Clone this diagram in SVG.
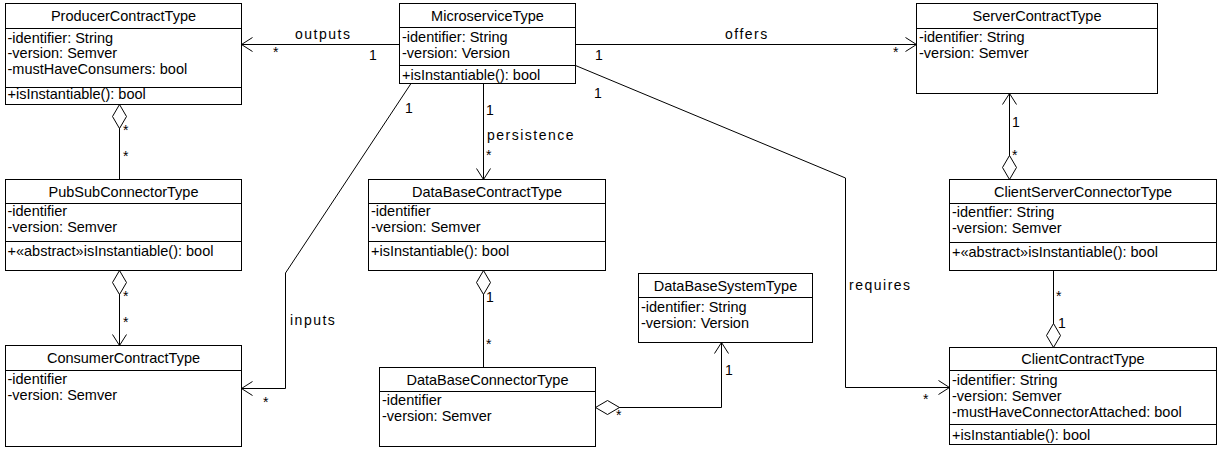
<svg xmlns="http://www.w3.org/2000/svg" width="1225" height="451" viewBox="0 0 1225 451">
<style>
text{font-family:"Liberation Sans",Arial,sans-serif;font-size:14.5px;fill:#000}
.t{text-anchor:middle}
.lbl{letter-spacing:1.5px;font-size:14px}
.m{font-size:14px}
.box{fill:#fff;stroke:#000;stroke-width:1}
.div{stroke:#000;stroke-width:1}
.c{fill:none;stroke:#000;stroke-width:1}
</style>
<defs>
<marker id="arr" markerUnits="userSpaceOnUse" markerWidth="16" markerHeight="18" refX="12" refY="8" orient="auto" overflow="visible">
<path d="M1,1 L12,8 L1,15" fill="none" stroke="#000" stroke-width="1"/>
</marker>
<marker id="dia" markerUnits="userSpaceOnUse" markerWidth="26" markerHeight="16" refX="0" refY="7" orient="auto" overflow="visible">
<path d="M0,7 L12,0 L24,7 L12,14 Z" fill="#fff" stroke="#000" stroke-width="1"/>
</marker>
</defs>
<rect width="1225" height="451" fill="#fff"/>

<g id="connectors">
<path class="c" d="M399.5,44.5 L241.5,44.5" marker-end="url(#arr)"/>
<path class="c" d="M575.5,44.5 L916.5,44.5" marker-end="url(#arr)"/>
<path class="c" d="M575.5,65.5 L845.5,178 L845.5,387.5 L949.5,387.5" marker-end="url(#arr)"/>
<path class="c" d="M411,83.5 L285.5,273 L285.5,388.5 L241.5,388.5" marker-end="url(#arr)"/>
<path class="c" d="M483.5,83.5 L483.5,179.5" marker-end="url(#arr)"/>
<path class="c" d="M119.5,104.5 L119.5,179.5" marker-start="url(#dia)"/>
<path class="c" d="M119.5,270.5 L119.5,345.5" marker-start="url(#dia)" marker-end="url(#arr)"/>
<path class="c" d="M483.5,270.5 L483.5,367.5" marker-start="url(#dia)"/>
<path class="c" d="M595.5,407.5 L721.5,407.5 L721.5,342.5" marker-start="url(#dia)" marker-end="url(#arr)"/>
<path class="c" d="M1009.5,179.5 L1009.5,93.5" marker-start="url(#dia)" marker-end="url(#arr)"/>
<path class="c" d="M1053.5,347.5 L1053.5,270.5" marker-start="url(#dia)"/>
<text class="lbl" x="295" y="39">outputs</text>
<text class="m" x="273" y="57">*</text>
<text class="m" x="369" y="60">1</text>
<text class="lbl" x="725" y="39">offers</text>
<text class="m" x="595" y="60">1</text>
<text class="m" x="893" y="57">*</text>
<text class="lbl" x="849" y="290">requires</text>
<text class="m" x="594" y="98">1</text>
<text class="m" x="923" y="404">*</text>
<text class="lbl" x="290" y="325">inputs</text>
<text class="m" x="405" y="113">1</text>
<text class="m" x="263" y="407">*</text>
<text class="lbl" x="487" y="140">persistence</text>
<text class="m" x="486" y="115">1</text>
<text class="m" x="486" y="160">*</text>
<text class="m" x="123" y="135">*</text>
<text class="m" x="123" y="161">*</text>
<text class="m" x="123" y="301">*</text>
<text class="m" x="123" y="327">*</text>
<text class="m" x="486" y="302">1</text>
<text class="m" x="486" y="349">*</text>
<text class="m" x="616" y="420">*</text>
<text class="m" x="725" y="375">1</text>
<text class="m" x="1012" y="127">1</text>
<text class="m" x="1012" y="160">*</text>
<text class="m" x="1056" y="301">*</text>
<text class="m" x="1058" y="328">1</text>
</g>

<g id="ProducerContractType">
<rect class="box" x="5.5" y="3.5" width="236" height="101"/>
<line class="div" x1="5.5" y1="28.5" x2="241.5" y2="28.5"/>
<line class="div" x1="5.5" y1="87.5" x2="241.5" y2="87.5"/>
<text class="t" x="123.5" y="21">ProducerContractType</text>
<text x="7.5" y="42.5">-identifier: String</text>
<text x="7.5" y="58">-version: Semver</text>
<text x="7.5" y="73.5">-mustHaveConsumers: bool</text>
<text x="7.5" y="99">+isInstantiable(): bool</text>
</g>

<g id="MicroserviceType">
<rect class="box" x="399.5" y="3.5" width="176" height="80"/>
<line class="div" x1="399.5" y1="27.5" x2="575.5" y2="27.5"/>
<line class="div" x1="399.5" y1="65.5" x2="575.5" y2="65.5"/>
<text class="t" x="487.5" y="20.5">MicroserviceType</text>
<text x="402" y="42">-identifier: String</text>
<text x="402" y="58">-version: Version</text>
<text x="402" y="80">+isInstantiable(): bool</text>
</g>

<g id="ServerContractType">
<rect class="box" x="916.5" y="3.5" width="241" height="90"/>
<line class="div" x1="916.5" y1="28.5" x2="1157.5" y2="28.5"/>
<text class="t" x="1037" y="21">ServerContractType</text>
<text x="919" y="42">-identifier: String</text>
<text x="919" y="58">-version: Semver</text>
</g>

<g id="PubSubConnectorType">
<rect class="box" x="5.5" y="179.5" width="236" height="91"/>
<line class="div" x1="5.5" y1="203.5" x2="241.5" y2="203.5"/>
<line class="div" x1="5.5" y1="241.5" x2="241.5" y2="241.5"/>
<text class="t" x="123.5" y="197">PubSubConnectorType</text>
<text x="7.5" y="216">-identifier</text>
<text x="7.5" y="232">-version: Semver</text>
<text x="7.5" y="256">+«abstract»isInstantiable(): bool</text>
</g>

<g id="ConsumerContractType">
<rect class="box" x="5.5" y="345.5" width="236" height="101"/>
<line class="div" x1="5.5" y1="370.5" x2="241.5" y2="370.5"/>
<text class="t" x="123.5" y="363">ConsumerContractType</text>
<text x="7.5" y="384">-identifier</text>
<text x="7.5" y="400">-version: Semver</text>
</g>

<g id="DataBaseContractType">
<rect class="box" x="368.5" y="179.5" width="237" height="91"/>
<line class="div" x1="368.5" y1="203.5" x2="605.5" y2="203.5"/>
<line class="div" x1="368.5" y1="241.5" x2="605.5" y2="241.5"/>
<text class="t" x="487" y="197">DataBaseContractType</text>
<text x="371" y="216">-identifier</text>
<text x="371" y="232">-version: Semver</text>
<text x="371" y="256">+isInstantiable(): bool</text>
</g>

<g id="DataBaseConnectorType">
<rect class="box" x="379.5" y="367.5" width="216" height="79"/>
<line class="div" x1="379.5" y1="391.5" x2="595.5" y2="391.5"/>
<text class="t" x="487.5" y="385">DataBaseConnectorType</text>
<text x="382" y="405">-identifier</text>
<text x="382" y="421">-version: Semver</text>
</g>

<g id="DataBaseSystemType">
<rect class="box" x="638.5" y="273.5" width="174" height="69"/>
<line class="div" x1="638.5" y1="297.5" x2="812.5" y2="297.5"/>
<text class="t" x="725.5" y="291">DataBaseSystemType</text>
<text x="641" y="312">-identifier: String</text>
<text x="641" y="328">-version: Version</text>
</g>

<g id="ClientServerConnectorType">
<rect class="box" x="949.5" y="179.5" width="267" height="91"/>
<line class="div" x1="949.5" y1="203.5" x2="1216.5" y2="203.5"/>
<line class="div" x1="949.5" y1="242.5" x2="1216.5" y2="242.5"/>
<text class="t" x="1083" y="197">ClientServerConnectorType</text>
<text x="952" y="217">-identfier: String</text>
<text x="952" y="233">-version: Semver</text>
<text x="952" y="257">+«abstract»isInstantiable(): bool</text>
</g>

<g id="ClientContractType">
<rect class="box" x="949.5" y="347.5" width="267" height="97"/>
<line class="div" x1="949.5" y1="370.5" x2="1216.5" y2="370.5"/>
<line class="div" x1="949.5" y1="424.5" x2="1216.5" y2="424.5"/>
<text class="t" x="1083" y="364">ClientContractType</text>
<text x="952" y="385">-identifier: String</text>
<text x="952" y="401">-version: Semver</text>
<text x="952" y="417">-mustHaveConnectorAttached: bool</text>
<text x="952" y="440">+isInstantiable(): bool</text>
</g>
</svg>
